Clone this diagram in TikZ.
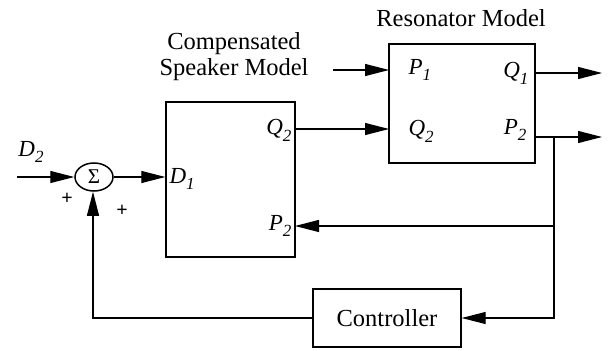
\documentclass[tikz,border=0pt]{standalone}
\usepackage{fontspec}
\setmainfont{Liberation Serif}
\usetikzlibrary{arrows.meta,shapes.geometric}
\newcommand{\ssb}[1]{\raisebox{-0.3em}{\fontsize{17}{17}\selectfont\itshape #1}}
\begin{document}
\begin{tikzpicture}[x=1pt,y=-1pt,
  line width=1.1pt,
  arr/.style={-{Triangle[length=24pt,width=12pt]}},
  blk/.style={draw, line width=1.4pt, inner sep=0pt},
  lbl/.style={font=\fontsize{23}{24}\selectfont\itshape, inner sep=0pt},
  txt/.style={font=\fontsize{24.5}{26}\selectfont, inner sep=0pt, align=center}]
\useasboundingbox (0,0) rectangle (609,350);
% blocks
\node[blk, minimum width=129pt, minimum height=155pt] (spk) at (230.5,179.5) {};
\node[blk, minimum width=146pt, minimum height=119pt] (res) at (462,103.5) {};
\node[blk, minimum width=148pt, minimum height=58pt, txt] (ctl) at (387,318) {Controller};
\node[draw, ellipse, line width=1.5pt, minimum width=38pt, minimum height=28pt, inner sep=0pt,
      font=\fontsize{21}{22}\selectfont] (sig) at (94,177) {Σ};
% ports
\coordinate (d2in) at (17,177);
\coordinate (q2out) at (295,129);
\coordinate (q2in) at (389,129);
\coordinate (p1src) at (333,70);
\coordinate (p1in) at (389,70);
\coordinate (q1out) at (535,73);
\coordinate (q1end) at (602,73);
\coordinate (p2out) at (535,137);
\coordinate (p2end) at (602,137);
\coordinate (jn) at (554,137);
\coordinate (jm) at (554,226);
\coordinate (jb) at (554,318);
\coordinate (spkp2) at (295,226);
\coordinate (fbc) at (93,318);
% texts
\node[txt] (cap1) at (234,57) {Compensated\\Speaker Model};
\node[txt] (cap2) at (461,18) {Resonator Model};
\node[lbl] (lD2) at (31,152) {D\ssb{2}};
\node[lbl, anchor=west] (lD1) at (169,179) {D\ssb{1}};
\node[lbl, anchor=east] (lQ2a) at (292,130) {Q\ssb{2}};
\node[lbl, anchor=east] (lP2a) at (292,226) {P\ssb{2}};
\node[lbl, anchor=west] (lP1) at (408,70) {P\ssb{1}};
\node[lbl, anchor=west] (lQ2b) at (408,131) {Q\ssb{2}};
\node[lbl, anchor=east] (lQ1) at (529,73) {Q\ssb{1}};
\node[lbl, anchor=east] (lP2b) at (527,130) {P\ssb{2}};
\node[font=\fontsize{20}{20}\selectfont\bfseries, inner sep=0pt] (pl1) at (67,199) {+};
\node[font=\fontsize{20}{20}\selectfont\bfseries, inner sep=0pt] (pl2) at (122,211) {+};
% connectors
\draw[arr] (d2in) -- (sig.west);
\draw[arr] (sig.east) -- (sig.east -| spk.west);
\draw[arr] (q2out) -- (q2in);
\draw[arr] (p1src) -- (p1in);
\draw[arr] (q1out) -- (q1end);
\draw[arr] (p2out) -- (p2end);
\draw[arr] (jn) -- (jm) -- (spkp2);
\draw[arr] (jm) -- (jb) -- (ctl.east);
\draw[arr] (ctl.west) -- (fbc) -- (sig.south -| fbc);
\end{tikzpicture}
\end{document}
